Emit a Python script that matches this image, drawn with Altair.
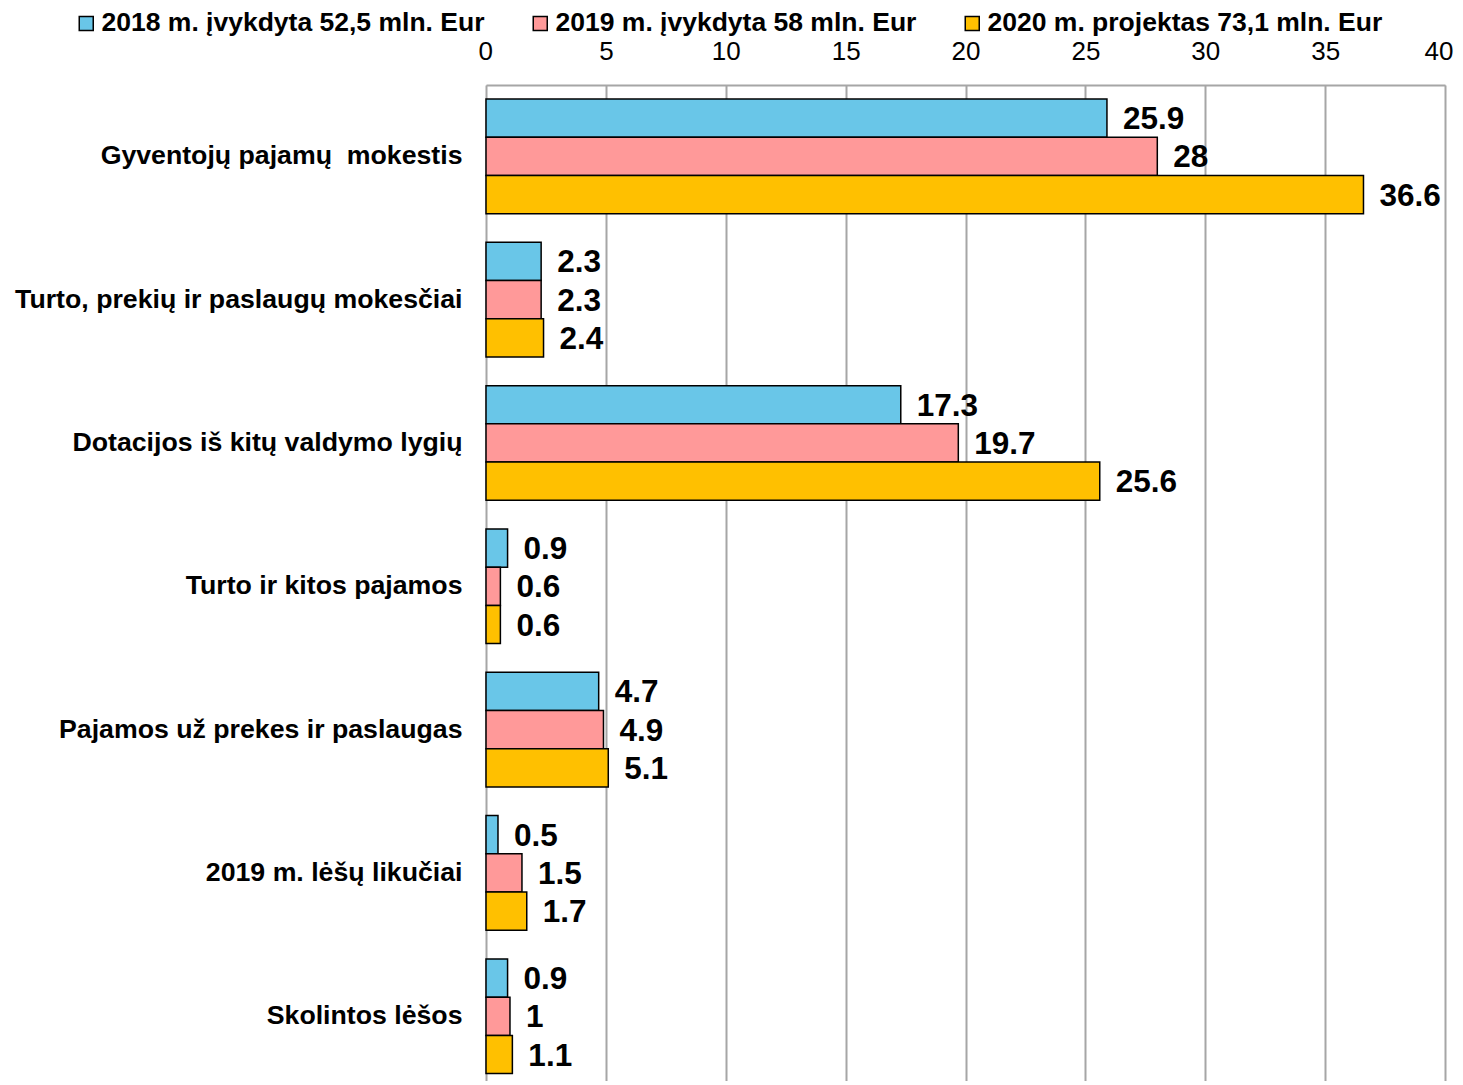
import altair as alt
import pandas as pd

categories = [
    "Gyventojų pajamų\u00a0 mokestis",
    "Turto, prekių ir paslaugų mokesčiai",
    "Dotacijos iš kitų valdymo lygių",
    "Turto ir kitos pajamos",
    "Pajamos už prekes ir paslaugas",
    "2019 m. lėšų likučiai",
    "Skolintos lėšos",
]
series = [
    "2018 m. įvykdyta 52,5 mln. Eur",
    "2019 m. įvykdyta 58 mln. Eur",
    "2020 m. projektas 73,1 mln. Eur",
]
values_2018 = [25.9, 2.3, 17.3, 0.9, 4.7, 0.5, 0.9]
values_2019 = [28, 2.3, 19.7, 0.6, 4.9, 1.5, 1]
values_2020 = [36.6, 2.4, 25.6, 0.6, 5.1, 1.7, 1.1]
colors = ["#69C6E8", "#FF9999", "#FFC000"]
x_ticks = [0, 5, 10, 15, 20, 25, 30, 35, 40]

rows = []
for s, vals in zip(series, [values_2018, values_2019, values_2020]):
    for c, v in zip(categories, vals):
        rows.append({"category": c, "series": s, "value": v, "label": f"{v:g}"})
df = pd.DataFrame(rows)

FONT = "Liberation Sans"

y_enc = alt.Y(
    "category:N",
    sort=categories,
    scale=alt.Scale(paddingInner=0.2, paddingOuter=0.0745, align=0.654),
    axis=alt.Axis(
        title=None,
        ticks=False,
        domain=False,
        labelFont=FONT,
        labelFontSize=26.7,
        labelFontWeight="bold",
        labelColor="black",
        labelPadding=24,
        labelLimit=0,
    ),
)
yoff_enc = alt.YOffset(
    "series:N", sort=series, scale=alt.Scale(paddingInner=0, paddingOuter=0)
)
x_enc = alt.X(
    "value:Q",
    scale=alt.Scale(domain=[0, 40], nice=False),
    axis=alt.Axis(
        title=None,
        orient="top",
        values=x_ticks,
        grid=True,
        gridColor="#a6a6a6",
        gridWidth=2,
        ticks=False,
        domain=True,
        domainColor="#a6a6a6",
        domainWidth=2,
        labelFont=FONT,
        labelFontSize=26,
        labelColor="black",
        labelPadding=21,
        labelFlush=True,
        labelFlushOffset=8,
        labelOverlap=False,
    ),
)

bars = alt.Chart(df).mark_bar(stroke="black", strokeWidth=1.5).encode(
    y=y_enc,
    yOffset=yoff_enc,
    x=x_enc,
    color=alt.Color(
        "series:N",
        sort=series,
        scale=alt.Scale(domain=series, range=colors),
        legend=alt.Legend(
            title=None,
            orient="none",
            direction="horizontal",
            legendX=-413,
            legendY=-75,
            symbolType="square",
            symbolSize=196,
            symbolStrokeColor="black",
            symbolStrokeWidth=1.5,
            symbolOpacity=1,
            labelFont=FONT,
            labelFontSize=26.5,
            labelFontWeight="bold",
            labelColor="black",
            labelOffset=2,
            labelLimit=0,
            columnPadding=42,
            padding=0,
        ),
    ),
)

texts = alt.Chart(df).mark_text(
    align="left",
    baseline="middle",
    dx=16,
    dy=2,
    font=FONT,
    fontSize=31.5,
    fontWeight="bold",
    color="black",
).encode(
    y=alt.Y("category:N", sort=categories),
    yOffset=alt.YOffset("series:N", sort=series),
    x=alt.X("value:Q"),
    text="label:N",
)

chart = (
    alt.layer(bars, texts)
    .properties(
        width=959,
        height=996,
        autosize=alt.AutoSizeParams(type="none"),
        padding={"left": 478, "top": 77, "right": 10, "bottom": 0},
    )
    .configure_view(strokeWidth=0)
    .configure(background="white")
)

chart.save("out.html", embed_options={"renderer": "svg", "actions": False})
